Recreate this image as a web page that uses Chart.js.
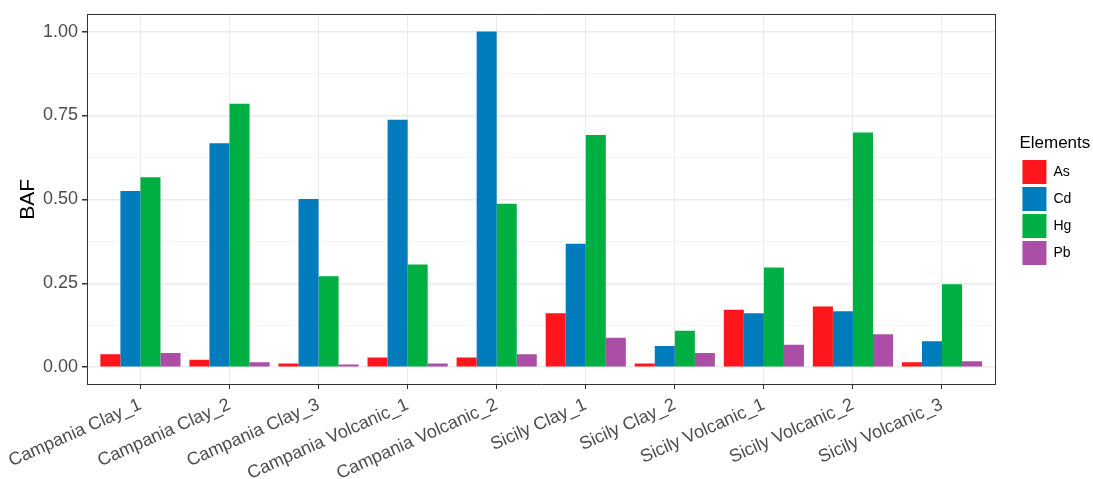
<!DOCTYPE html>
<html>
<head>
<meta charset="utf-8">
<script src="https://cdn.jsdelivr.net/npm/chart.js@4.4.1/dist/chart.umd.min.js"></script>
<style>
  html, body { margin: 0; padding: 0; background: #fff; }
</style>
</head>
<body>
<canvas id="bafChart" width="1093" height="479"></canvas>
<script>
var sites = ['Campania Clay_1', 'Campania Clay_2', 'Campania Clay_3', 'Campania Volcanic_1', 'Campania Volcanic_2',
             'Sicily Clay_1', 'Sicily Clay_2', 'Sicily Volcanic_1', 'Sicily Volcanic_2', 'Sicily Volcanic_3'];
var asBaf = [0.039, 0.022, 0.011, 0.029, 0.029, 0.161, 0.011, 0.171, 0.181, 0.015];
var cdBaf = [0.525, 0.667, 0.501, 0.737, 1.000, 0.368, 0.063, 0.161, 0.167, 0.077];
var hgBaf = [0.566, 0.785, 0.271, 0.306, 0.487, 0.692, 0.109, 0.297, 0.699, 0.247];
var pbBaf = [0.042, 0.015, 0.008, 0.011, 0.039, 0.088, 0.042, 0.067, 0.098, 0.018];
var bafTicks = [0, 0.25, 0.5, 0.75, 1];

// minor gridlines sit halfway between the major ones (ggplot style)
var bafMinor = bafTicks.slice(1).map(function(v, i) { return (v + bafTicks[i]) / 2; });

function isMinor(v) {
  return bafMinor.some(function(m) { return Math.abs(m - v) < 1e-9; });
}

// x is numeric so the 0.6 category padding of ggplot can be kept
function toPoints(arr) {
  return arr.map(function(v, i) { return { x: i + 1, y: v }; });
}

Chart.defaults.font.family = "'Liberation Sans', Arial, sans-serif";

var ctx = document.getElementById('bafChart').getContext('2d');
var bafChart = new Chart(ctx, {
  type: 'bar',
  data: {
    datasets: [
      { label: 'As', data: toPoints(asBaf), backgroundColor: '#FE161D', borderWidth: 0 },
      { label: 'Cd', data: toPoints(cdBaf), backgroundColor: '#007BBB', borderWidth: 0 },
      { label: 'Hg', data: toPoints(hgBaf), backgroundColor: '#00AF41', borderWidth: 0 },
      { label: 'Pb', data: toPoints(pbBaf), backgroundColor: '#AA4FA5', borderWidth: 0 }
    ]
  },
  options: {
    responsive: false,
    animation: false,
    devicePixelRatio: 1,
    categoryPercentage: 0.9,
    barPercentage: 1.0,
    layout: { padding: { left: 0, right: 0, top: 0, bottom: 0 } },
    plugins: {
      tooltip: { enabled: false },
      legend: {
        position: 'right',
        align: 'center',
        fullSize: false,
        title: {
          display: true,
          text: 'Elements',
          position: 'start',
          color: '#000',
          font: { size: 17 },
          padding: { top: 4, bottom: 2 }
        },
        labels: {
          boxWidth: 24,
          boxHeight: 24,
          padding: 3,
          color: '#000',
          font: { size: 14 },
          // trailing spaces widen the legend box so the title is not clipped
          generateLabels: function(chart) {
            var items = Chart.defaults.plugins.legend.labels.generateLabels(chart);
            items.forEach(function(it) { it.text = it.text + '\u00a0\u00a0\u00a0'; });
            return items;
          }
        }
      }
    },
    scales: {
      x: {
        type: 'linear',
        position: 'bottom',
        min: 0.4,
        max: 10.6,
        offset: false,
        afterBuildTicks: function(scale) {
          scale.ticks = sites.map(function(s, i) { return { value: i + 1 }; });
        },
        afterFit: function(scale) {
          scale.height = 95;
          scale.paddingLeft = 0;
          scale.paddingRight = 0;
        },
        ticks: {
          autoSkip: false,
          minRotation: 24,
          maxRotation: 24,
          color: '#4D4D4D',
          font: { size: 18 },
          padding: 5,
          callback: function(v) { return sites[Math.round(v) - 1]; }
        },
        grid: { offset: false, color: '#EBEBEB', lineWidth: 1, tickColor: '#333', tickLength: 5 },
        border: { display: true, color: '#333', width: 1 }
      },
      xTop: {
        type: 'linear',
        position: 'top',
        min: 0,
        max: 1,
        grid: { display: false },
        ticks: { display: false },
        border: { display: true, color: '#333', width: 1 },
        afterFit: function(scale) { scale.height = 14; }
      },
      y: {
        min: -0.05,
        max: 1.05,
        afterBuildTicks: function(scale) {
          scale.ticks = bafTicks.concat(bafMinor).sort(function(a, b) { return a - b; })
            .map(function(v) { return { value: v }; });
        },
        afterFit: function(scale) { scale.width = 87; },
        ticks: {
          color: '#4D4D4D',
          font: { size: 18 },
          padding: 4,
          callback: function(v) { return isMinor(v) ? '' : v.toFixed(2); }
        },
        grid: {
          color: function(c) { return c.tick && isMinor(c.tick.value) ? '#F5F5F5' : '#EBEBEB'; },
          lineWidth: function(c) { return c.tick && isMinor(c.tick.value) ? 1 : 1.5; },
          tickColor: function(c) { return c.tick && isMinor(c.tick.value) ? 'rgba(0,0,0,0)' : '#333'; },
          tickLength: 5
        },
        border: { display: true, color: '#333', width: 1 },
        title: {
          display: true,
          text: 'BAF',
          color: '#000',
          font: { size: 21 },
          padding: { top: 16, bottom: 0 }
        }
      },
      yRight: {
        type: 'linear',
        position: 'right',
        min: 0,
        max: 1,
        grid: { display: false },
        ticks: { display: false },
        border: { display: true, color: '#333', width: 1 },
        afterFit: function(scale) { scale.width = 24; }
      }
    }
  }
});
</script>
</body>
</html>
